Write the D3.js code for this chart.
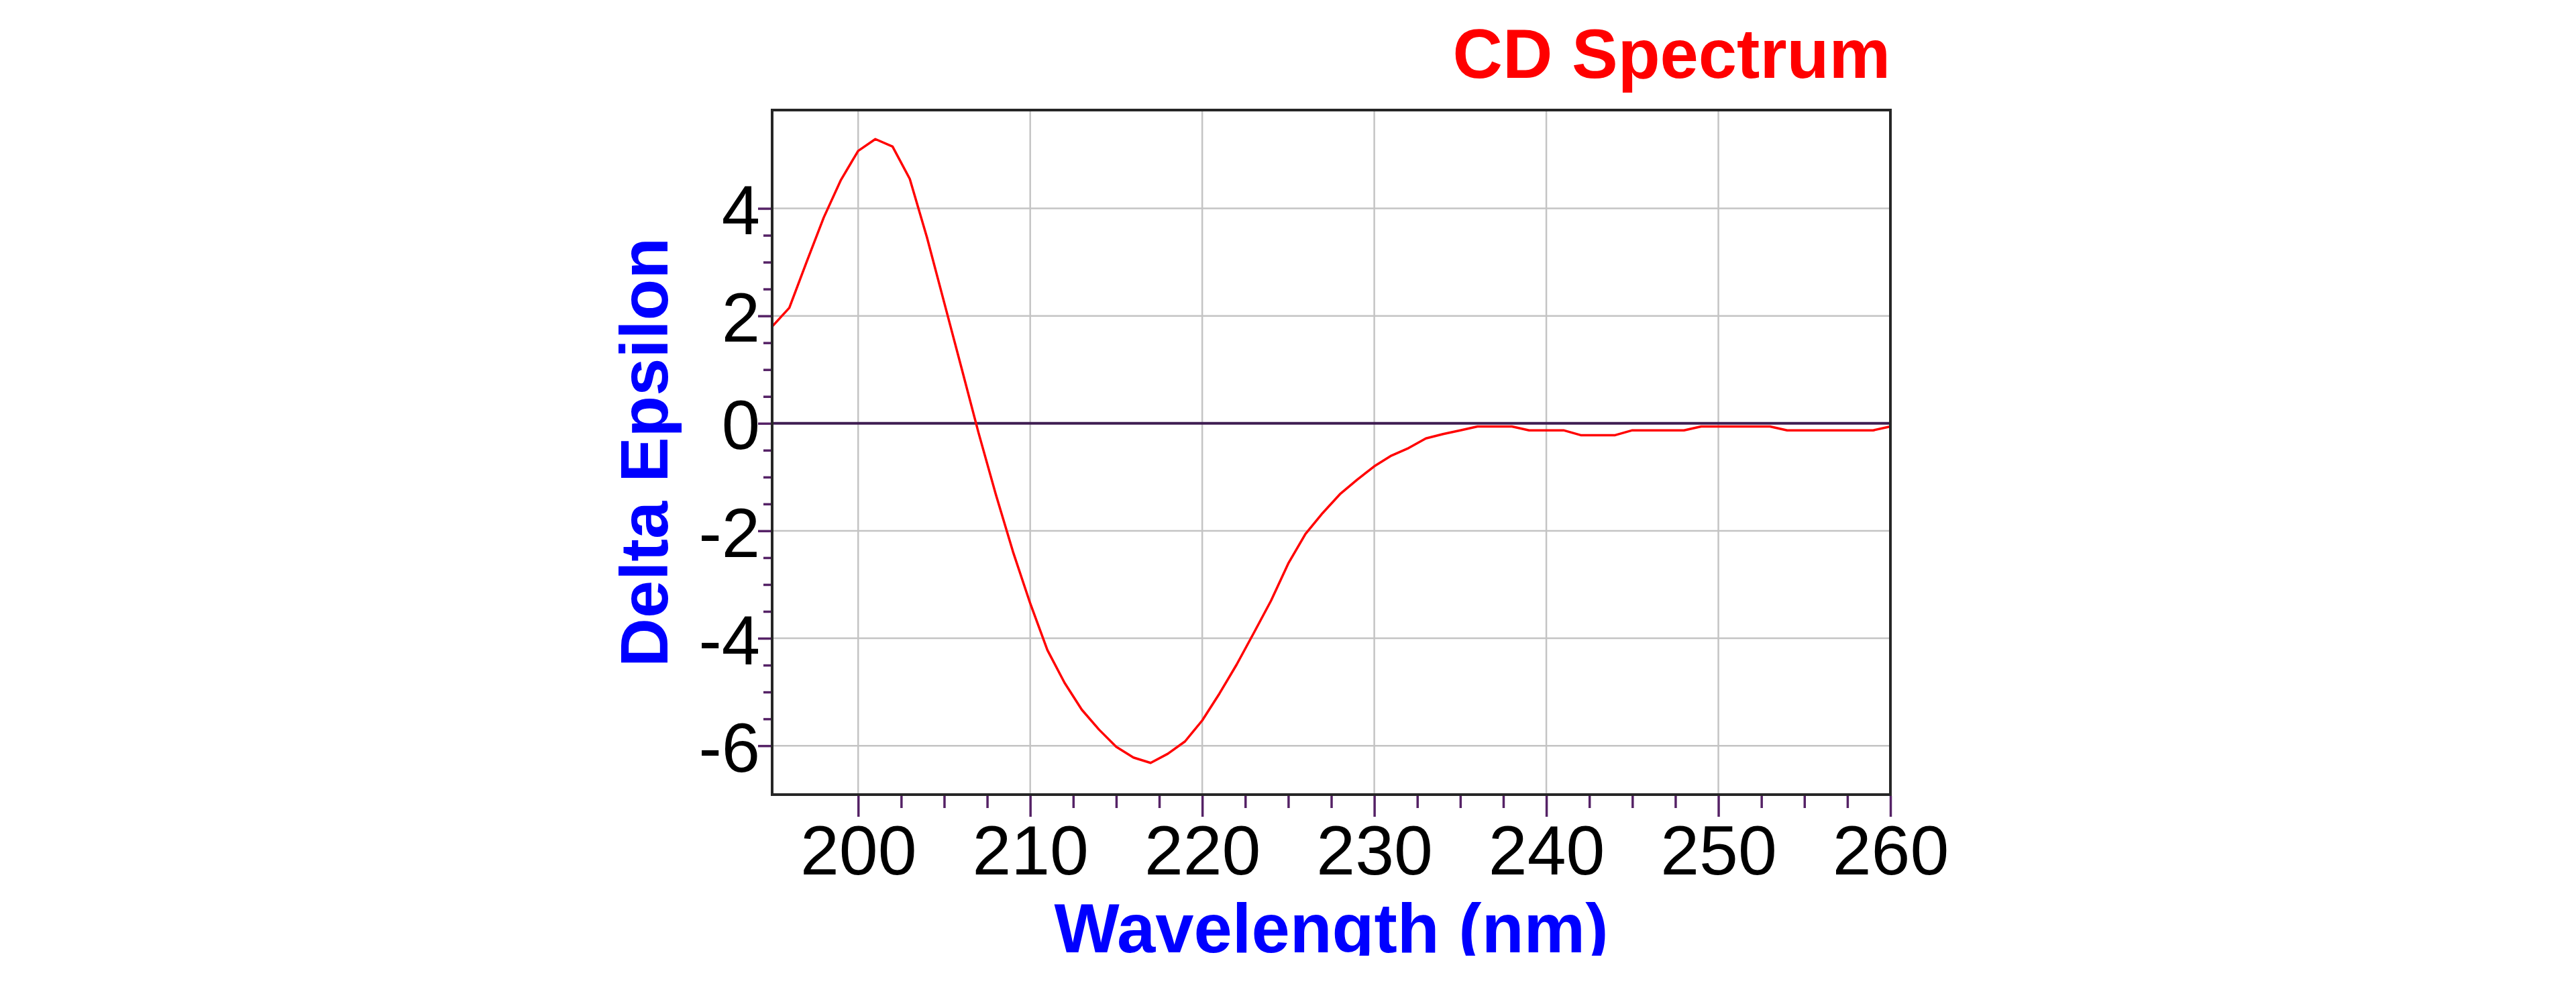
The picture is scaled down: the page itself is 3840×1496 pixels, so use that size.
<!DOCTYPE html>
<html>
<head>
<meta charset="utf-8">
<script src="https://cdn.jsdelivr.net/npm/d3@7"></script>
<style>
  body { margin: 0; background: #ffffff; }
  text { font-family: "Liberation Sans", Arial, sans-serif; }
</style>
</head>
<body>
<div id="chart"></div>
<script>
// CD spectrum
const wavelength = [
  195, 196, 197, 198, 199, 200, 201, 202, 203, 204,
  205, 206, 207, 208, 209, 210, 211, 212, 213, 214,
  215, 216, 217, 218, 219, 220, 221, 222, 223, 224,
  225, 226, 227, 228, 229, 230, 231, 232, 233, 234,
  235, 236, 237, 238, 239, 240, 241, 242, 243, 244,
  245, 246, 247, 248, 249, 250, 251, 252, 253, 254,
  255, 256, 257, 258, 259, 260
];
const deltaEpsilon = [
  1.80, 2.15, 3.00, 3.83, 4.53, 5.07, 5.29, 5.15, 4.55, 3.46,
  2.25, 1.04, -0.18, -1.32, -2.39, -3.35, -4.22, -4.83, -5.33, -5.70,
  -6.02, -6.22, -6.32, -6.15, -5.92, -5.53, -5.03, -4.49, -3.90, -3.30,
  -2.61, -2.06, -1.67, -1.32, -1.05, -0.80, -0.60, -0.46, -0.28, -0.20,
  -0.13, -0.06, -0.06, -0.06, -0.13, -0.13, -0.13, -0.22, -0.22, -0.22,
  -0.13, -0.13, -0.13, -0.13, -0.06, -0.06, -0.06, -0.06, -0.06, -0.13,
  -0.13, -0.13, -0.13, -0.13, -0.13, -0.06
];
const xMajorTicks = [200, 210, 220, 230, 240, 250, 260];
const xMinorTicks = [202.5, 205, 207.5, 212.5, 215, 217.5, 222.5, 225, 227.5,
  232.5, 235, 237.5, 242.5, 245, 247.5, 252.5, 255, 257.5];
const yMajorTicks = [-6, -4, -2, 0, 2, 4];
const yMinorTicks = [-5.5, -5, -4.5, -3.5, -3, -2.5, -1.5, -1, -0.5,
  0.5, 1, 1.5, 2.5, 3, 3.5];

const data = wavelength.map((w, i) => ({ w: w, de: deltaEpsilon[i] }));

const W = 3840, H = 1496;
const plot = { left: 1151, right: 2818, top: 164, bottom: 1184 };
const tickColor = '#552266';

const svg = d3.select('#chart')
  .append('svg')
    .attr('width', W)
    .attr('height', H)
    .style('display', 'block');

svg.append('rect')
  .attr('width', W)
  .attr('height', H)
  .attr('fill', '#ffffff');

// scales
const x = d3.scaleLinear()
  .domain([195, 260])
  .range([plot.left, plot.right]);

const y = d3.scaleLinear()
  .domain([-6.91, 5.83])
  .range([plot.bottom, plot.top]);

// grid
svg.append('g')
  .selectAll('line')
  .data(xMajorTicks.filter(d => d < 260))
  .join('line')
    .attr('x1', d => x(d)).attr('x2', d => x(d))
    .attr('y1', plot.top).attr('y2', plot.bottom)
    .attr('stroke', '#c4c4c4')
    .attr('stroke-width', 2.5);

svg.append('g')
  .selectAll('line')
  .data(yMajorTicks.filter(d => d !== 0))
  .join('line')
    .attr('x1', plot.left).attr('x2', plot.right)
    .attr('y1', d => y(d)).attr('y2', d => y(d))
    .attr('stroke', '#c4c4c4')
    .attr('stroke-width', 2.5);

// zero line
svg.append('line')
  .attr('x1', plot.left).attr('x2', plot.right)
  .attr('y1', y(0)).attr('y2', y(0))
  .attr('stroke', '#3f1d52')
  .attr('stroke-width', 4);

// the spectrum
const line = d3.line()
  .x(d => x(d.w))
  .y(d => y(d.de));

svg.append('path')
  .datum(data)
  .attr('d', line)
  .attr('fill', 'none')
  .attr('stroke', '#ff0000')
  .attr('stroke-width', 3.5)
  .attr('stroke-linejoin', 'round');

// frame
svg.append('rect')
  .attr('x', plot.left)
  .attr('y', plot.top)
  .attr('width', plot.right - plot.left)
  .attr('height', plot.bottom - plot.top)
  .attr('fill', 'none')
  .attr('stroke', '#262626')
  .attr('stroke-width', 4);

// X axis (major + minor)
const xAxisY = plot.bottom + 2;
const xMajor = svg.append('g')
  .attr('transform', `translate(0, ${xAxisY})`)
  .call(d3.axisBottom(x).tickValues(xMajorTicks).tickSize(31).tickPadding(12)
    .tickFormat(d => String(d)));
svg.append('g')
  .attr('transform', `translate(0, ${xAxisY})`)
  .call(d3.axisBottom(x).tickValues(xMinorTicks).tickSize(18).tickFormat(''));

// Y axis (major + minor), plain hyphen for the minus sign as in the original
const yAxisX = plot.left - 2;
const yMajor = svg.append('g')
  .attr('transform', `translate(${yAxisX}, 0)`)
  .call(d3.axisLeft(y).tickValues(yMajorTicks).tickSize(19).tickPadding(-3)
    .tickFormat(d => String(d)));
svg.append('g')
  .attr('transform', `translate(${yAxisX}, 0)`)
  .call(d3.axisLeft(y).tickValues(yMinorTicks).tickSize(11).tickFormat(''));

svg.selectAll('.domain').remove();
svg.selectAll('.tick line')
  .attr('stroke', tickColor)
  .attr('stroke-width', 3.5);

xMajor.selectAll('.tick text')
  .attr('fill', '#000000')
  .attr('font-size', 104)
  .attr('font-family', '"Liberation Sans", Arial, sans-serif');

yMajor.selectAll('.tick text')
  .attr('fill', '#000000')
  .attr('font-size', 103)
  .attr('dy', '0.37em')
  .attr('font-family', '"Liberation Sans", Arial, sans-serif');

// titles
svg.append('text')
  .attr('x', plot.right)
  .attr('y', 116)
  .attr('text-anchor', 'end')
  .attr('fill', '#ff0000')
  .attr('font-size', 103)
  .attr('font-weight', 'bold')
  .text('CD Spectrum');

svg.append('text')
  .attr('transform', `translate(995, ${(plot.top + plot.bottom) / 2}) rotate(-90)`)
  .attr('text-anchor', 'middle')
  .attr('fill', '#0000ff')
  .attr('font-size', 101)
  .attr('font-weight', 'bold')
  .text('Delta Epsilon');

// the x title is cut off at the bottom of the original canvas
svg.append('clipPath')
  .attr('id', 'canvasClip')
  .append('rect')
    .attr('x', 0).attr('y', 0)
    .attr('width', W).attr('height', 1424);

svg.append('text')
  .attr('clip-path', 'url(#canvasClip)')
  .attr('x', (plot.left + plot.right) / 2)
  .attr('y', 1419)
  .attr('text-anchor', 'middle')
  .attr('fill', '#0000ff')
  .attr('font-size', 103)
  .attr('font-weight', 'bold')
  .text('Wavelength (nm)');
</script>
</body>
</html>
